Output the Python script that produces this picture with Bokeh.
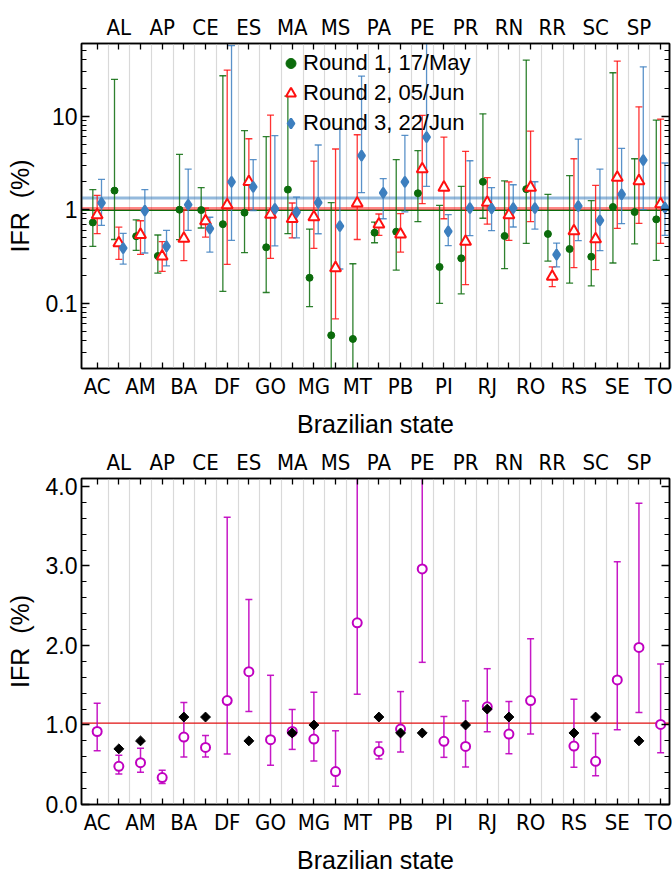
import numpy as np
from bokeh.plotting import figure
from bokeh.models import (ColumnDataSource, Range1d, FixedTicker, LinearAxis, Span,
                          Legend, LegendItem, CustomJSTickFormatter)
from bokeh.layouts import column
from bokeh.embed import file_html
from bokeh.resources import INLINE

states = ["AC", "AL", "AM", "AP", "BA", "CE", "DF", "ES", "GO", "MA", "MG", "MS", "MT", "PA",
          "PB", "PE", "PI", "PR", "RJ", "RN", "RO", "RR", "RS", "SC", "SE", "SP", "TO"]

# ---- Top panel: IFR (%) by survey round (log scale) ----
r1_val = [0.73, 1.60, 0.52, 0.32, 1.00, 0.99, 0.70, 0.93, 0.396, 1.64, 0.187, 0.0453, 0.0414, 0.568,
          0.582, 1.50, 0.244, 0.302, 1.99, 0.523, 1.66, 0.55, 0.38, 0.314, 1.07, 0.944, 0.788]
r1_low = [0.405, 0.48, 0.367, 0.21, 0.478, 0.637, 0.134, 0.347, 0.13, 0.554, 0.092, 0.005, 0.005, 0.443,
          0.226, 0.744, 0.0996, 0.126, 0.81, 0.234, 0.436, 0.282, 0.164, 0.153, 0.269, 0.43, 0.287]
r1_high = [1.64, 24.8, 0.78, 0.536, 3.9, 1.72, 27.1, 7.0, 6.04, 16.4, 0.62, 1.19, 0.264, 0.738,
           3.43, 4.28, 1.11, 1.78, 10.6, 2.03, 39.9, 1.46, 2.31, 1.25, 29.2, 3.51, 9.1]

r2_val = [0.877, 0.44, 0.54, 0.317, 0.49, 0.756, 1.12, 1.99, 0.885, 0.80, 0.835, 0.238, 1.17, 0.697,
          0.545, 2.72, 1.73, 0.455, 1.19, 0.877, 1.73, 0.192, 0.591, 0.486, 2.2, 2.03, 1.15]
r2_low = [0.554, 0.294, 0.333, 0.219, 0.285, 0.51, 0.26, 0.99, 0.302, 0.50, 0.386, 0.068, 0.48, 0.531,
          0.352, 1.16, 0.80, 0.158, 0.70, 0.47, 0.744, 0.15, 0.24, 0.228, 0.631, 0.714, 0.436]
r2_high = [1.42, 0.65, 0.762, 0.455, 0.99, 1.04, 31.2, 5.74, 10.3, 1.18, 3.31, 4.46, 6.34, 0.90,
           0.906, 10.2, 5.98, 4.21, 2.2, 1.98, 6.94, 0.244, 3.51, 1.82, 38.9, 12.6, 9.33]

r3_val = [1.18, 0.389, 0.98, 0.405, 1.13, 0.626, 1.98, 1.75, 1.02, 0.944, 1.19, 0.669, 3.78, 1.51,
          1.98, 5.98, 0.586, 1.04, 1.03, 1.04, 1.04, 0.33, 1.09, 0.769, 1.46, 3.4, 1.05]
r3_low = [0.68, 0.262, 0.344, 0.25, 0.60, 0.352, 0.47, 0.98, 0.41, 0.50, 0.553, 0.232, 1.52, 0.80,
          0.95, 1.78, 0.412, 0.527, 0.596, 0.653, 0.621, 0.245, 0.466, 0.365, 0.708, 1.0, 0.531]
r3_high = [2.11, 0.558, 1.64, 0.60, 2.72, 0.83, 57.0, 3.43, 6.19, 1.36, 4.92, 7.29, 26.9, 2.15,
           6.24, 100.0, 0.885, 3.34, 1.72, 1.85, 1.99, 0.44, 5.7, 2.72, 4.53, 33.8, 3.16]

round_labels = ["Round 1, 17/May", "Round 2, 05/Jun", "Round 3, 22/Jun"]
round_means = [0.984, 1.033, 1.33]

# ---- Bottom panel: IFR (%) linear scale ----
nan = float("nan")
ifr_val = [0.918, 0.48, 0.526, 0.338, 0.848, 0.718, 1.307, 1.671, 0.815, 0.918, 0.823, 0.414, 2.285, 0.668,
           0.948, 2.962, 0.794, 0.731, 1.228, 0.886, 1.307, nan, 0.735, 0.543, 1.566, 1.976, 1.007]
ifr_low = [0.677, 0.385, 0.405, 0.263, 0.597, 0.597, 0.635, 1.17, 0.493, 0.693, 0.547, 0.23, 1.387, 0.573,
           0.66, 1.788, 0.593, 0.472, 0.915, 0.639, 0.886, nan, 0.468, 0.363, 0.94, 1.157, 0.652]
ifr_high = [1.274, 0.618, 0.706, 0.43, 1.282, 0.869, 3.613, 2.577, 1.625, 1.195, 1.412, 0.927, 5.0, 0.786,
            1.42, 5.5, 1.107, 1.303, 1.708, 1.295, 2.084, nan, 1.324, 0.894, 3.053, 3.789, 1.767]
ref_val = [nan, 0.7, 0.8, nan, 1.1, 1.1, nan, 0.8, nan, 0.9, 1.0, nan, nan, 1.1,
           0.9, 0.9, nan, 1.0, 1.2, 1.1, nan, nan, 0.9, 1.1, nan, 0.8, nan]
ifr_mean = 1.024

GREEN = "#0b6b0b"
RED = "#ff1010"
BLUE = "#3d7fbf"
MAG = "#c000c0"

xpos = np.arange(1, len(states) + 1)
bottom_labels = {int(i): (s if (i - 1) % 2 == 0 else "") for i, s in zip(xpos, states)}
top_labels = {int(i): (s if (i - 1) % 2 == 1 else "") for i, s in zip(xpos, states)}

CAT_FONT = "DejaVu Sans Condensed"
SANS = "Liberation Sans"
YLABEL = "IFR\u00a0\u00a0(%)"


def style(p, yticks, yminor, yfmt):
    p.outline_line_color = "black"
    p.outline_line_width = 1.5
    p.xgrid.ticker = FixedTicker(ticks=list(xpos[:-1] + 0.5))
    p.xgrid.grid_line_color = "#d9d9d9"
    p.xgrid.grid_line_width = 1.2
    p.ygrid.grid_line_color = None

    xa = p.xaxis[0]
    xa.ticker = FixedTicker(ticks=list(xpos))
    xa.major_label_overrides = bottom_labels
    xa.axis_label = "Brazilian state"
    top = LinearAxis(ticker=FixedTicker(ticks=list(xpos)), major_label_overrides=top_labels)
    p.add_layout(top, "above")
    for a in (xa, top):
        a.major_tick_in = 6
        a.major_tick_out = 0
        a.minor_tick_line_color = None
        a.major_label_text_font = CAT_FONT
        a.major_label_text_font_size = "22px"
        a.major_label_text_color = "black"
        a.axis_line_width = 1.5
        a.major_tick_line_width = 1.3
    xa.major_label_standoff = 5
    top.major_label_standoff = 4
    xa.axis_label_text_font = SANS
    xa.axis_label_text_font_size = "25px"
    xa.axis_label_text_font_style = "normal"
    xa.axis_label_text_color = "black"
    xa.axis_label_standoff = 8

    ya = p.yaxis[0]
    ya.ticker = FixedTicker(ticks=yticks, minor_ticks=yminor)
    ya.formatter = yfmt
    ya.axis_label = YLABEL
    right = LinearAxis(ticker=FixedTicker(ticks=yticks, minor_ticks=yminor),
                       formatter=CustomJSTickFormatter(code="return ''"))
    p.add_layout(right, "right")
    for a in (ya, right):
        a.major_tick_in = 8
        a.major_tick_out = 0
        a.minor_tick_in = 5
        a.minor_tick_out = 0
        a.axis_line_width = 1.5
        a.major_tick_line_width = 1.3
        a.minor_tick_line_width = 1.0
    right.major_label_standoff = 0
    ya.major_label_standoff = 4
    ya.major_label_text_font = SANS
    ya.major_label_text_font_size = "23px"
    ya.major_label_text_color = "black"
    ya.axis_label_text_font = SANS
    ya.axis_label_text_font_size = "25px"
    ya.axis_label_text_font_style = "normal"
    ya.axis_label_text_color = "black"
    ya.axis_label_standoff = 9


def errorbars(p, xs, low, high, color, alpha=0.85, width=1.3):
    src = ColumnDataSource(dict(x=xs, low=low, high=high))
    p.segment(x0="x", y0="low", x1="x", y1="high", source=src, line_color=color,
              line_width=width, line_alpha=alpha)
    p.scatter(x="x", y="low", source=src, marker="dash", size=7, line_color=color,
              line_width=width, line_alpha=alpha)
    p.scatter(x="x", y="high", source=src, marker="dash", size=7, line_color=color,
              line_width=width, line_alpha=alpha)


# ---------------- top figure ----------------
p1 = figure(frame_width=588, frame_height=325, y_axis_type="log",
            x_range=Range1d(0.277, 27.41), y_range=Range1d(0.02, 60),
            output_backend="svg", toolbar_location=None,
            min_border_left=81, min_border_right=3, min_border_top=43, min_border_bottom=72)

log_minor = [0.02, 0.03, 0.04, 0.05, 0.06, 0.07, 0.08, 0.09, 0.2, 0.3, 0.4, 0.5, 0.6, 0.7, 0.8, 0.9,
             2, 3, 4, 5, 6, 7, 8, 9, 20, 30, 40, 50, 60]
style(p1, [0.1, 1, 10], log_minor, CustomJSTickFormatter(code="return String(tick)"))

for loc, col, w, a in zip(round_means, [GREEN, RED, BLUE], [1.5, 3, 3], [1.0, 0.5, 0.55]):
    p1.add_layout(Span(location=loc, dimension="width", line_color=col, line_width=w,
                       line_alpha=a, level="underlay"))

offsets = [-0.2, 0.0, 0.2]
series = [(r1_val, r1_low, r1_high), (r2_val, r2_low, r2_high), (r3_val, r3_low, r3_high)]
colors = [GREEN, RED, BLUE]
marker_rs = []
for (v, lo, hi), off, col in zip(series, offsets, colors):
    errorbars(p1, list(xpos + off), lo, hi, col)
for (v, lo, hi), off, col, k in zip(series, offsets, colors, range(3)):
    src = ColumnDataSource(dict(x=list(xpos + off), y=v))
    if k == 0:
        r = p1.scatter(x="x", y="y", source=src, marker="circle", size=7,
                       fill_color=col, line_color=col)
    elif k == 1:
        r = p1.scatter(x="x", y="y", source=src, marker="triangle", size=11,
                       fill_color="white", line_color=col, line_width=2)
    else:
        r = p1.scatter(x="x", y="y", source=src, marker="diamond", size=10,
                       fill_color=col, line_color=col, line_width=2.2)
    marker_rs.append(r)

legend = Legend(items=[LegendItem(label=l, renderers=[r]) for l, r in zip(round_labels, marker_rs)],
                location=(197, 230), border_line_color=None, background_fill_alpha=0,
                label_text_font=SANS, label_text_font_size="22px", label_text_color="black",
                glyph_width=25, glyph_height=30, label_height=30, padding=0, spacing=0,
                margin=0, label_standoff=0)
p1.add_layout(legend)

# ---------------- bottom figure ----------------
p2 = figure(frame_width=588, frame_height=326,
            x_range=Range1d(0.277, 27.41), y_range=Range1d(0, 4.1),
            output_backend="svg", toolbar_location=None,
            min_border_left=81, min_border_right=3, min_border_top=38, min_border_bottom=70)
lin_minor = [round(0.2 * i, 1) for i in range(0, 21)]
style(p2, [0, 1, 2, 3, 4], lin_minor, CustomJSTickFormatter(code="return tick.toFixed(1)"))

p2.add_layout(Span(location=ifr_mean, dimension="width", line_color="#e01010", line_width=1.3,
                   level="underlay"))
errorbars(p2, list(xpos), ifr_low, ifr_high, MAG, alpha=0.9, width=1.5)
src_i = ColumnDataSource(dict(x=list(xpos), y=ifr_val))
p2.scatter(x="x", y="y", source=src_i, marker="circle", size=9, fill_color="white",
           line_color=MAG, line_width=2)
src_r = ColumnDataSource(dict(x=list(xpos), y=ref_val))
p2.scatter(x="x", y="y", source=src_r, marker="square", size=7, angle=np.pi / 4,
           fill_color="black", line_color="black")

layout = column(p1, p2, spacing=0)
open("out.html", "w").write(file_html(layout, INLINE))
